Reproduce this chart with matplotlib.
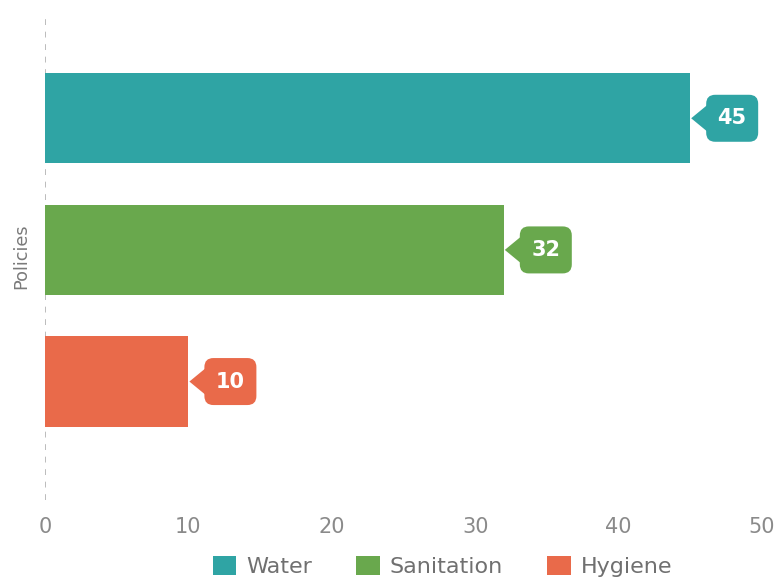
import matplotlib
matplotlib.use("Agg")
import matplotlib.pyplot as plt
from matplotlib.patches import FancyBboxPatch, Polygon, Patch
from matplotlib.transforms import Affine2D, ScaledTranslation

plt.rcParams['font.family'] = ['DejaVu Sans']

category = "Policies"
series = ["Water", "Sanitation", "Hygiene"]
values = [45, 32, 10]
colors = ["#2fa4a4", "#69a84d", "#e96a4a"]
x_ticks = [0, 10, 20, 30, 40, 50]

fig = plt.figure(figsize=(7.79, 5.79), dpi=100)
ax = fig.add_axes([0.0578, 0.1364, 0.9202, 0.8412])

positions = list(range(len(series)))
ax.barh(positions, values, height=0.685, color=colors, zorder=2)

ax.set_xlim(0, 50)
ax.set_ylim(2.9, -0.8)
ax.set_xticks(x_ticks)
ax.set_xticklabels([str(t) for t in x_ticks])
ax.set_yticks([])
ax.tick_params(axis='x', length=0, pad=12, labelsize=15, labelcolor="#8a8a8a")
for s in ax.spines.values():
    s.set_visible(False)
ax.axvline(0, color="#b0b0b0", lw=1.2, ls=(0, (3.5, 4)), zorder=1)

ax.set_ylabel(category, fontsize=12.7, color="#7a7a7a")
ax.yaxis.set_label_coords(-0.021, 0.5)

# value callouts: rounded box with a pointer toward the bar end
box_w, box_h, arrow_len, arrow_half = 52, 47, 15, 14
for pos, val, col in zip(positions, values, colors):
    trans = Affine2D() + ScaledTranslation(val, pos, ax.transData)
    box = FancyBboxPatch((arrow_len + 1, -box_h / 2), box_w, box_h,
                         boxstyle="round,pad=0,rounding_size=9",
                         transform=trans, facecolor=col, edgecolor="none",
                         zorder=3, clip_on=False)
    tri = Polygon([(1, 0), (arrow_len + 3, arrow_half), (arrow_len + 3, -arrow_half)],
                  closed=True, transform=trans, facecolor=col,
                  edgecolor="none", zorder=3, clip_on=False)
    ax.add_patch(box)
    ax.add_patch(tri)
    ax.text(arrow_len + 1 + box_w / 2, 0, str(val), transform=trans,
            ha="center", va="center", color="white", fontsize=15,
            fontweight="bold", zorder=4)

handles = [Patch(facecolor=c, edgecolor="none") for c in colors]
fig.legend(handles, series, loc="center", bbox_to_anchor=(0.568, 0.021),
           ncol=3, frameon=False, fontsize=16, labelcolor="#707070",
           handlelength=1.05, handleheight=0.9, handletextpad=0.45,
           columnspacing=2.0)

fig.savefig("out.png", dpi=100)
